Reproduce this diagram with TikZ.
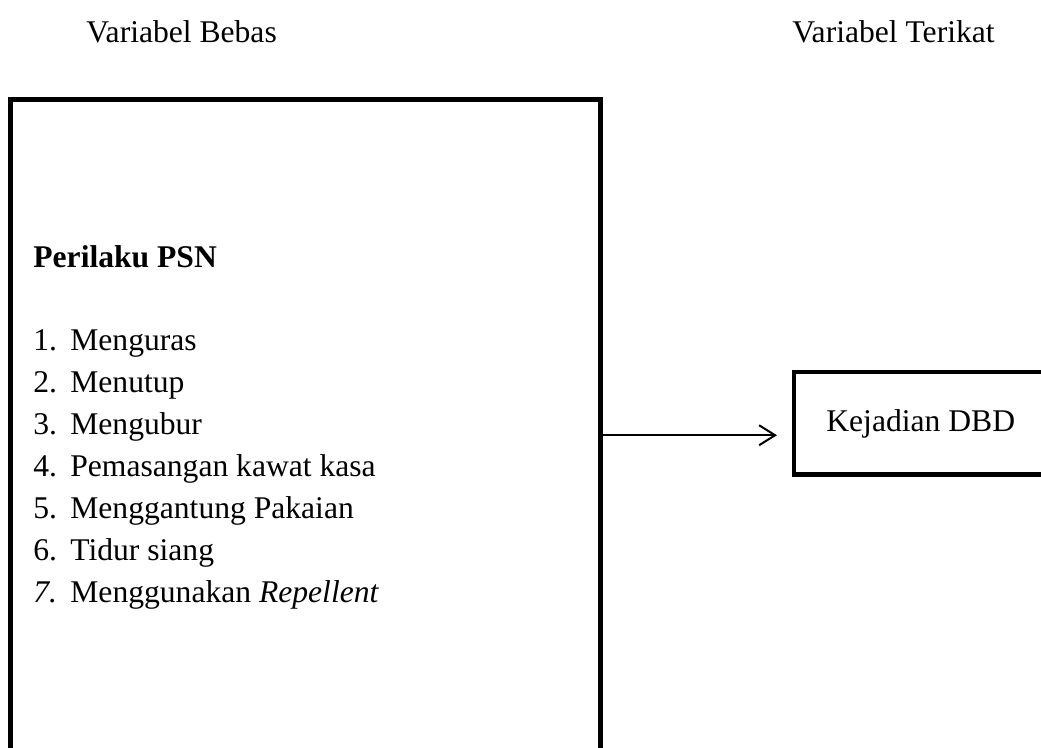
\documentclass[tikz,border=0pt]{standalone}
\usepackage{fontspec}
\setmainfont{Liberation Serif}
\usetikzlibrary{arrows.meta,positioning}

\begin{document}
\begin{tikzpicture}[
      x=0.5pt,y=-0.5pt,
      txt/.style={inner sep=0pt,anchor=base west,
                  font=\fontsize{15.8}{21}\selectfont},
      frame/.style={draw,inner sep=0pt,outer sep=0pt,anchor=north west},
      arrow/.style={-{Straight Barb[length=8pt,width=10pt]},line width=1pt},
    ]
    \useasboundingbox (0,0) rectangle (1041,748);

    % Headings
    \node[txt] (bebas)   at (86,43)  {Variabel Bebas};
    \node[txt] (terikat) at (792,43) {Variabel Terikat};

    % Boxes
    \node[frame,line width=2.5pt,minimum width=295pt,minimum height=340pt]
          (psn) at (10,100) {};
    \node[frame,line width=2.2pt,minimum width=128pt,minimum height=51.25pt]
          (dbd) at (794,372) {};
    \node[txt] (dbdlabel) at (826,432) {Kejadian DBD};

    % Independent variable list
    \node[txt,font=\fontsize{15.8}{21}\selectfont\bfseries] (title)
          at (33,268) {Perilaku PSN};
    \foreach \i/\t in {1/Menguras,2/Menutup,3/Mengubur,
                       4/Pemasangan kawat kasa,5/Menggantung Pakaian,
                       6/Tidur siang}
      \node[txt] (item\i) at (33,351+42*\i-42) {\makebox[18.5pt][l]{\i.}\t};
    \node[txt] (item7) at (33,603)
          {\makebox[18.5pt][l]{\textit{7.}}Menggunakan \textit{Repellent}};

    % Arrow
    \coordinate (tip) at ([xshift=-8.5pt,yshift=-6pt]dbd.west);
    \draw[arrow] (psn.east |- tip) -- (tip);

  \end{tikzpicture}
\end{document}
